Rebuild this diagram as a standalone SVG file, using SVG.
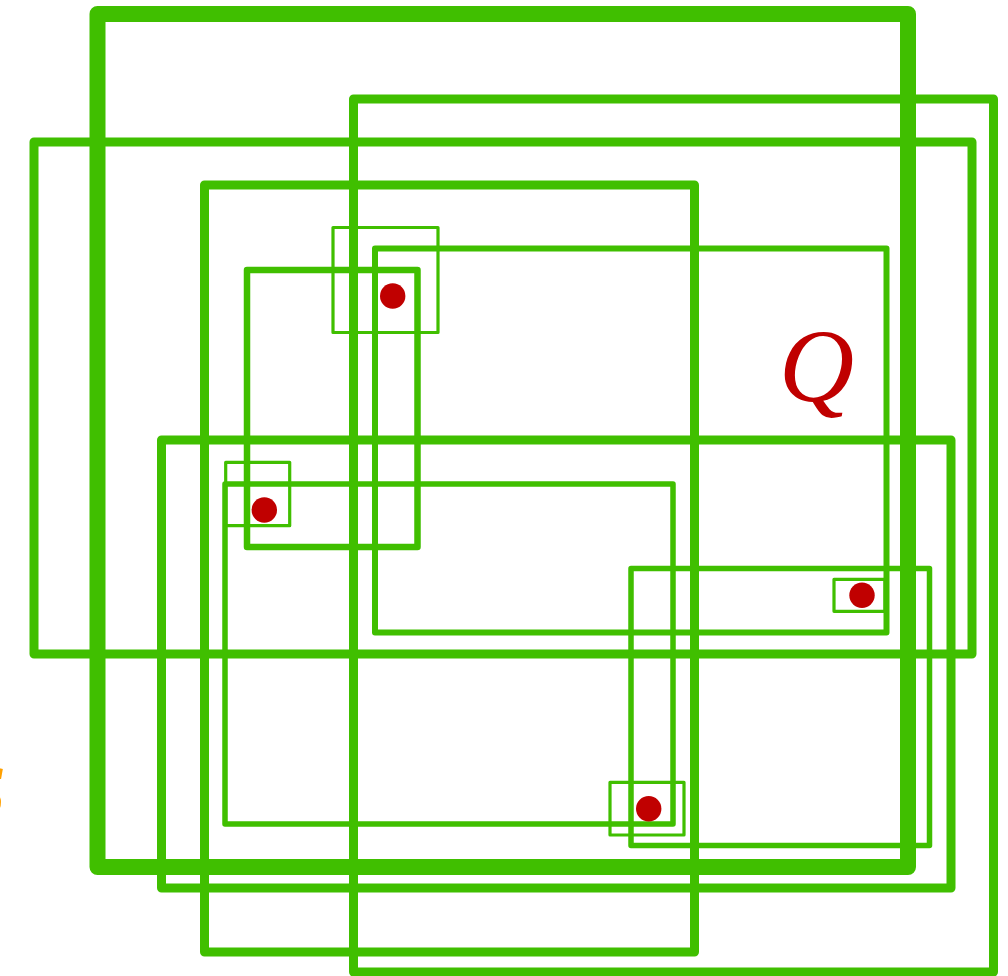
<svg xmlns="http://www.w3.org/2000/svg" width="1008" height="976" viewBox="0 0 1008 976">
<style>
.r{fill:none;stroke:#40bf00;stroke-linejoin:round}
.dot{fill:#c00000}
.lbl{font-family:"Liberation Serif",serif;font-style:italic}
</style>
<rect width="1008" height="976" fill="#fff"/>
<g id="rects">
<rect id="r1" class="r" x="97.5" y="14" width="810.5" height="853" stroke-width="16"/>
<rect id="r2" class="r" x="353.5" y="99" width="640" height="873" stroke-width="9"/>
<rect id="r3" class="r" x="34" y="142" width="938" height="512" stroke-width="9"/>
<rect id="r4" class="r" x="204.5" y="185" width="490" height="767" stroke-width="9"/>
<rect id="r5" class="r" x="161.5" y="440" width="789.5" height="448" stroke-width="9"/>
<rect id="r6" class="r" x="247" y="270" width="170.5" height="277" stroke-width="6.5"/>
<rect id="r7" class="r" x="375" y="248.5" width="511.5" height="384" stroke-width="6"/>
<rect id="r8" class="r" x="225" y="484" width="448" height="340" stroke-width="5.5"/>
<rect id="r9" class="r" x="631" y="568.5" width="298.5" height="277" stroke-width="5.5"/>
<rect id="s1" class="r" x="333" y="227.5" width="105" height="105" stroke-width="3.2"/>
<rect id="s2" class="r" x="225.7" y="462.3" width="64" height="63.4" stroke-width="3.2"/>
<rect id="s3" class="r" x="834" y="579.3" width="51" height="32" stroke-width="3.2"/>
<rect id="s4" class="r" x="610" y="782.3" width="74" height="52.7" stroke-width="3.2"/>
</g>
<g id="dots">
<circle class="dot" cx="392.7" cy="296" r="12.7"/>
<circle class="dot" cx="264.3" cy="510" r="12.7"/>
<circle class="dot" cx="862" cy="595.3" r="12.7"/>
<circle class="dot" cx="648.7" cy="808.7" r="12.7"/>
</g>
<g id="labels">
<text class="lbl" x="779" y="401" font-size="104" fill="#c00000">Q</text>
<text class="lbl" x="-33" y="817" font-size="74" fill="#ffa000">S</text>
</g>
</svg>
